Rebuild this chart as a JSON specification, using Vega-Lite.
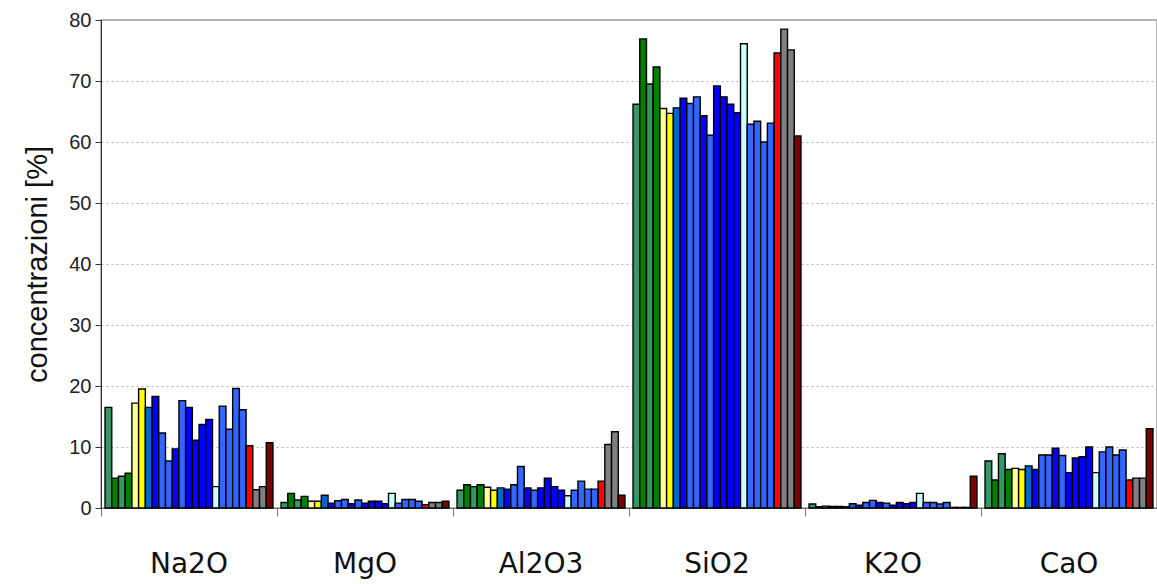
{
  "$schema": "https://vega.github.io/schema/vega-lite/v6.json",
  "autosize": {"type": "none"},
  "width": 1056,
  "height": 488,
  "padding": {"left": 101, "top": 20, "right": 0, "bottom": 76},
  "background": "white",
  "config": {"view": {"stroke": "#9a9a9a", "strokeWidth": 1.5}},
  "datasets": {
    "d": [
      {"ox":"Na2O","s":1,"v":16.5},{"ox":"Na2O","s":2,"v":4.9},{"ox":"Na2O","s":3,"v":5.2},{"ox":"Na2O","s":4,"v":5.7},{"ox":"Na2O","s":5,"v":17.2},{"ox":"Na2O","s":6,"v":19.5},{"ox":"Na2O","s":7,"v":16.5},{"ox":"Na2O","s":8,"v":18.3},{"ox":"Na2O","s":9,"v":12.3},{"ox":"Na2O","s":10,"v":7.7},{"ox":"Na2O","s":11,"v":9.7},{"ox":"Na2O","s":12,"v":17.6},{"ox":"Na2O","s":13,"v":16.5},{"ox":"Na2O","s":14,"v":11.1},{"ox":"Na2O","s":15,"v":13.7},{"ox":"Na2O","s":16,"v":14.5},{"ox":"Na2O","s":17,"v":3.5},{"ox":"Na2O","s":18,"v":16.7},{"ox":"Na2O","s":19,"v":12.9},{"ox":"Na2O","s":20,"v":19.6},{"ox":"Na2O","s":21,"v":16.1},{"ox":"Na2O","s":22,"v":10.2},{"ox":"Na2O","s":23,"v":3.0},{"ox":"Na2O","s":24,"v":3.5},{"ox":"Na2O","s":25,"v":10.7},
      {"ox":"MgO","s":1,"v":0.9},{"ox":"MgO","s":2,"v":2.4},{"ox":"MgO","s":3,"v":1.3},{"ox":"MgO","s":4,"v":1.9},{"ox":"MgO","s":5,"v":1.1},{"ox":"MgO","s":6,"v":1.1},{"ox":"MgO","s":7,"v":2.1},{"ox":"MgO","s":8,"v":0.8},{"ox":"MgO","s":9,"v":1.2},{"ox":"MgO","s":10,"v":1.4},{"ox":"MgO","s":11,"v":0.7},{"ox":"MgO","s":12,"v":1.3},{"ox":"MgO","s":13,"v":0.8},{"ox":"MgO","s":14,"v":1.1},{"ox":"MgO","s":15,"v":1.1},{"ox":"MgO","s":16,"v":0.7},{"ox":"MgO","s":17,"v":2.4},{"ox":"MgO","s":18,"v":0.8},{"ox":"MgO","s":19,"v":1.4},{"ox":"MgO","s":20,"v":1.4},{"ox":"MgO","s":21,"v":1.1},{"ox":"MgO","s":22,"v":0.55},{"ox":"MgO","s":23,"v":0.9},{"ox":"MgO","s":24,"v":0.9},{"ox":"MgO","s":25,"v":1.1},
      {"ox":"Al2O3","s":1,"v":2.9},{"ox":"Al2O3","s":2,"v":3.8},{"ox":"Al2O3","s":3,"v":3.5},{"ox":"Al2O3","s":4,"v":3.8},{"ox":"Al2O3","s":5,"v":3.4},{"ox":"Al2O3","s":6,"v":2.9},{"ox":"Al2O3","s":7,"v":3.3},{"ox":"Al2O3","s":8,"v":3.1},{"ox":"Al2O3","s":9,"v":3.8},{"ox":"Al2O3","s":10,"v":6.8},{"ox":"Al2O3","s":11,"v":3.3},{"ox":"Al2O3","s":12,"v":2.9},{"ox":"Al2O3","s":13,"v":3.3},{"ox":"Al2O3","s":14,"v":4.9},{"ox":"Al2O3","s":15,"v":3.5},{"ox":"Al2O3","s":16,"v":2.9},{"ox":"Al2O3","s":17,"v":2.0},{"ox":"Al2O3","s":18,"v":2.9},{"ox":"Al2O3","s":19,"v":4.4},{"ox":"Al2O3","s":20,"v":3.1},{"ox":"Al2O3","s":21,"v":3.1},{"ox":"Al2O3","s":22,"v":4.4},{"ox":"Al2O3","s":23,"v":10.4},{"ox":"Al2O3","s":24,"v":12.5},{"ox":"Al2O3","s":25,"v":2.1},
      {"ox":"SiO2","s":1,"v":66.2},{"ox":"SiO2","s":2,"v":76.9},{"ox":"SiO2","s":3,"v":69.5},{"ox":"SiO2","s":4,"v":72.3},{"ox":"SiO2","s":5,"v":65.5},{"ox":"SiO2","s":6,"v":64.7},{"ox":"SiO2","s":7,"v":65.6},{"ox":"SiO2","s":8,"v":67.2},{"ox":"SiO2","s":9,"v":66.3},{"ox":"SiO2","s":10,"v":67.4},{"ox":"SiO2","s":11,"v":64.3},{"ox":"SiO2","s":12,"v":61.1},{"ox":"SiO2","s":13,"v":69.2},{"ox":"SiO2","s":14,"v":67.4},{"ox":"SiO2","s":15,"v":66.2},{"ox":"SiO2","s":16,"v":64.8},{"ox":"SiO2","s":17,"v":76.1},{"ox":"SiO2","s":18,"v":62.9},{"ox":"SiO2","s":19,"v":63.4},{"ox":"SiO2","s":20,"v":60.0},{"ox":"SiO2","s":21,"v":63.1},{"ox":"SiO2","s":22,"v":74.6},{"ox":"SiO2","s":23,"v":78.5},{"ox":"SiO2","s":24,"v":75.1},{"ox":"SiO2","s":25,"v":61.0},
      {"ox":"K2O","s":1,"v":0.65},{"ox":"K2O","s":2,"v":0.2},{"ox":"K2O","s":3,"v":0.3},{"ox":"K2O","s":4,"v":0.25},{"ox":"K2O","s":5,"v":0.25},{"ox":"K2O","s":6,"v":0.2},{"ox":"K2O","s":7,"v":0.7},{"ox":"K2O","s":8,"v":0.45},{"ox":"K2O","s":9,"v":0.9},{"ox":"K2O","s":10,"v":1.25},{"ox":"K2O","s":11,"v":0.9},{"ox":"K2O","s":12,"v":0.8},{"ox":"K2O","s":13,"v":0.45},{"ox":"K2O","s":14,"v":0.9},{"ox":"K2O","s":15,"v":0.7},{"ox":"K2O","s":16,"v":0.9},{"ox":"K2O","s":17,"v":2.4},{"ox":"K2O","s":18,"v":0.9},{"ox":"K2O","s":19,"v":0.9},{"ox":"K2O","s":20,"v":0.65},{"ox":"K2O","s":21,"v":0.9},{"ox":"K2O","s":22,"v":0.1},{"ox":"K2O","s":23,"v":0.1},{"ox":"K2O","s":24,"v":0.1},{"ox":"K2O","s":25,"v":5.2},
      {"ox":"CaO","s":1,"v":7.7},{"ox":"CaO","s":2,"v":4.6},{"ox":"CaO","s":3,"v":8.9},{"ox":"CaO","s":4,"v":6.3},{"ox":"CaO","s":5,"v":6.5},{"ox":"CaO","s":6,"v":6.3},{"ox":"CaO","s":7,"v":6.9},{"ox":"CaO","s":8,"v":6.3},{"ox":"CaO","s":9,"v":8.7},{"ox":"CaO","s":10,"v":8.7},{"ox":"CaO","s":11,"v":9.8},{"ox":"CaO","s":12,"v":8.6},{"ox":"CaO","s":13,"v":5.8},{"ox":"CaO","s":14,"v":8.2},{"ox":"CaO","s":15,"v":8.4},{"ox":"CaO","s":16,"v":10.0},{"ox":"CaO","s":17,"v":5.8},{"ox":"CaO","s":18,"v":9.2},{"ox":"CaO","s":19,"v":10.0},{"ox":"CaO","s":20,"v":8.7},{"ox":"CaO","s":21,"v":9.5},{"ox":"CaO","s":22,"v":4.6},{"ox":"CaO","s":23,"v":4.9},{"ox":"CaO","s":24,"v":4.9},{"ox":"CaO","s":25,"v":13.0}
    ]
  },
  "data": {"name": "d"},
  "mark": {"type": "bar", "stroke": "black", "strokeWidth": 1.4},
  "encoding": {
    "x": {
      "field": "ox", "type": "nominal",
      "sort": ["Na2O","MgO","Al2O3","SiO2","K2O","CaO"],
      "scale": {"paddingInner": 0, "paddingOuter": 0},
      "axis": {
        "title": null, "bandPosition": 0, "labelOffset": 0, "labelAngle": 0,
        "labelFont": "DejaVu Sans", "labelFontSize": 28, "labelColor": "#111",
        "labelPadding": 34, "tickSize": 8, "tickColor": "#777", "domainColor": "#777",
        "labelAlign": "center", "grid": false
      }
    },
    "xOffset": {
      "field": "s", "type": "ordinal",
      "scale": {"paddingInner": 0, "paddingOuter": 0.6}
    },
    "y": {
      "field": "v", "type": "quantitative",
      "scale": {"domain": [0, 80], "nice": false},
      "axis": {
        "title": "concentrazioni [%]", "values": [0,10,20,30,40,50,60,70,80], "labelOverlap": false,
        "titleFont": "Liberation Sans", "titleFontSize": 29, "titleFontWeight": "normal", "titleColor": "#111",
        "titlePadding": 16,
        "labelFont": "Liberation Sans", "labelFontSize": 20, "labelColor": "#222", "labelPadding": 4,
        "tickSize": 6, "tickColor": "#333", "domainColor": "#333",
        "grid": true, "gridColor": "#b0b0b0", "gridDash": [2, 3], "gridWidth": 1
      }
    },
    "color": {
      "field": "s", "type": "ordinal", "legend": null,
      "scale": {
        "domain": [1,2,3,4,5,6,7,8,9,10,11,12,13,14,15,16,17,18,19,20,21,22,23,24,25],
        "range": ["#339966","#008000","#339966","#008000","#FFFF99","#FFFF00","#0066CC","#0000FF","#3366FF","#3366FF","#0000FF","#3366FF","#0000FF","#0000FF","#0000FF","#0000FF","#CCFFFF","#3366FF","#3366FF","#3366FF","#3366FF","#FF0000","#808080","#808080","#800000"]
      }
    }
  }
}
